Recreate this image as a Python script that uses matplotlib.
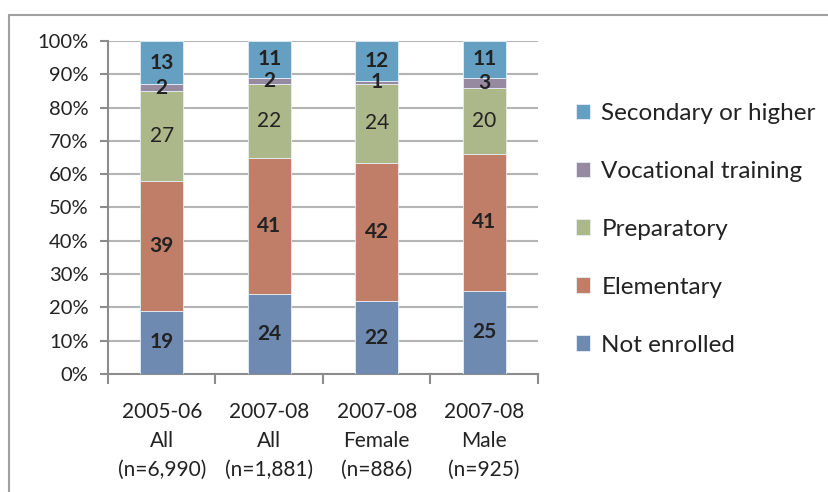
import numpy as np
import matplotlib
matplotlib.use("Agg")
import matplotlib.pyplot as plt
from matplotlib.patches import Rectangle

plt.rcParams["font.family"] = ["Lato", "DejaVu Sans"]

categories = ["2005-06\nAll\n(n=6,990)", "2007-08\nAll\n(n=1,881)",
              "2007-08\nFemale\n(n=886)", "2007-08\nMale\n(n=925)"]
series = ["Not enrolled", "Elementary", "Preparatory", "Vocational training", "Secondary or higher"]
not_enrolled = [19, 24, 22, 25]
elementary = [39, 41, 42, 41]
preparatory = [27, 22, 24, 20]
vocational = [2, 2, 1, 3]
secondary = [13, 11, 12, 11]
y_ticks = [0, 10, 20, 30, 40, 50, 60, 70, 80, 90, 100]

colors = ["#6f8ab0", "#c07e68", "#acb78a", "#968aa0", "#65a0c2"]
bold = [True, True, False, True, True]

values = np.array([not_enrolled, elementary, preparatory, vocational, secondary], dtype=float)
shares = values / values.sum(axis=0) * 100

fig = plt.figure(figsize=(8.29, 4.92), dpi=100)
# outer chart frame
fig.patches.append(Rectangle((9 / 829, -0.1), 1.1, (492 - 15) / 492 + 0.1, transform=fig.transFigure,
                             fill=False, edgecolor="#a0a0a0", linewidth=1.5))

ax = fig.add_axes([108 / 829, (492 - 374) / 492, 430 / 829, 333 / 492])
x = np.arange(len(categories))
bottom = np.zeros(len(categories))
handles = []
for i, name in enumerate(series):
    bars = ax.bar(x, shares[i], bottom=bottom, width=0.4, color=colors[i],
                  edgecolor="#e8eef5", linewidth=0.6, label=name, zorder=3)
    handles.append(bars)
    for j in range(len(categories)):
        ax.text(x[j], bottom[j] + shares[i][j] / 2, f"{int(values[i][j])}",
                ha="center", va="center", fontsize=15, color="#222222",
                fontweight="bold" if bold[i] else "normal", zorder=4)
    bottom += shares[i]

ax.set_xlim(-0.5, len(categories) - 0.5)
ax.set_ylim(0, 100)
ax.set_yticks(y_ticks)
ax.set_yticklabels([f"{t}%" for t in y_ticks], fontsize=14.5, color="#222222")
ax.set_xticks(x)
ax.set_xticklabels(categories, fontsize=15, color="#222222", linespacing=1.55)
ax.set_xticks(np.arange(len(categories) + 1) - 0.5, minor=True)
ax.tick_params(axis="x", which="major", length=0, pad=20)
ax.tick_params(axis="x", which="minor", length=7, color="#8c8c8c", width=1.5)
ax.tick_params(axis="y", length=6, color="#8c8c8c", width=1.5, pad=8)
ax.grid(axis="y", color="#b4b4b4", linewidth=1.5, zorder=0)
for side in ["top", "right"]:
    ax.spines[side].set_visible(False)
for side in ["left", "bottom"]:
    ax.spines[side].set_color("#8c8c8c")
    ax.spines[side].set_linewidth(1.5)
ax.spines["left"].set_zorder(5)

leg = fig.legend(handles[::-1], series[::-1], loc="upper left", bbox_to_anchor=(554 / 829, (492 - 81) / 492),
                 frameon=False, fontsize=17.5, handlelength=0.6, handleheight=0.6,
                 handletextpad=0.45, labelspacing=1.52)
for t in leg.get_texts():
    t.set_color("#222222")

fig.savefig("out.png", dpi=100)
